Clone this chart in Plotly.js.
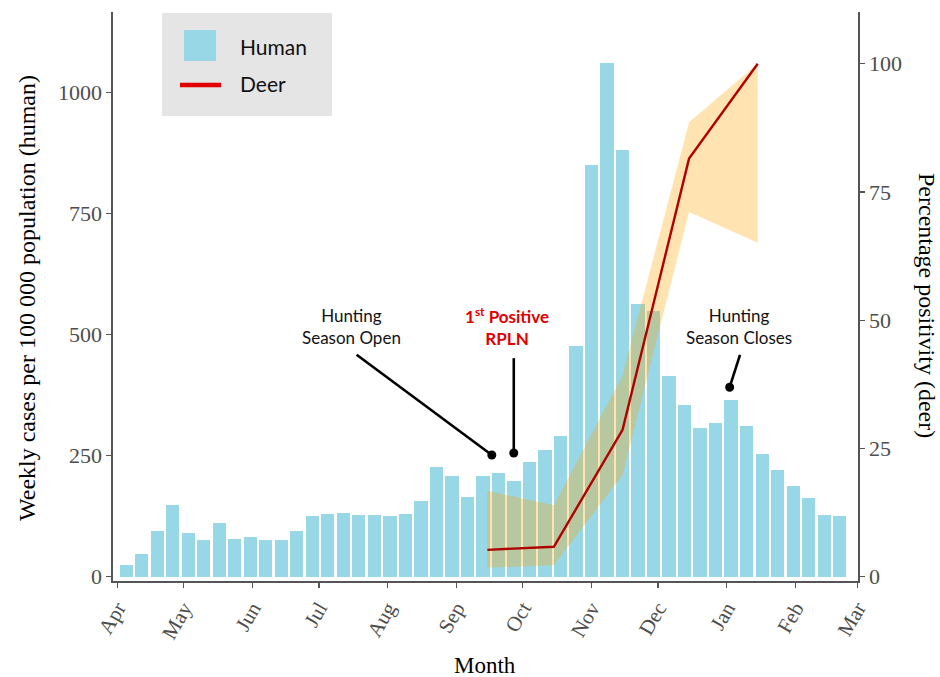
<!DOCTYPE html>
<html>
<head>
<meta charset="utf-8">
<script src="https://cdn.plot.ly/plotly-3.0.1.min.js"></script>
<style>
  html, body { margin: 0; padding: 0; background: #ffffff; }
  #chart { width: 940px; height: 677px; }
</style>
</head>
<body>
<div id="chart"></div>
<script>
// Weekly human cases (per 100 000) and monthly deer positivity, Apr 2020 – Feb 2021
const weekDates = [
  '2020-04-05','2020-04-12','2020-04-19','2020-04-26',
  '2020-05-03','2020-05-10','2020-05-17','2020-05-24','2020-05-31',
  '2020-06-07','2020-06-14','2020-06-21','2020-06-28',
  '2020-07-05','2020-07-12','2020-07-19','2020-07-26',
  '2020-08-02','2020-08-09','2020-08-16','2020-08-23','2020-08-30',
  '2020-09-06','2020-09-13','2020-09-20','2020-09-27',
  '2020-10-04','2020-10-11','2020-10-18','2020-10-25',
  '2020-11-01','2020-11-08','2020-11-15','2020-11-22','2020-11-29',
  '2020-12-06','2020-12-13','2020-12-20','2020-12-27',
  '2021-01-03','2021-01-10','2021-01-17','2021-01-24','2021-01-31',
  '2021-02-07','2021-02-14','2021-02-21'
];
const humanCases = [
  23, 47, 95, 148,
  90, 76, 111, 77, 82,
  75, 75, 94, 124,
  130, 132, 128, 128,
  125, 129, 155, 226, 207,
  165, 207, 213, 197,
  236, 262, 291, 476,
  851, 1061, 881, 563, 548,
  415, 355, 306, 317,
  364, 311, 253, 220, 186,
  163, 127, 124
];

const deerDates = ['2020-09-15', '2020-10-15', '2020-11-15', '2020-12-15', '2021-01-15'];
const deerPositivity = [5.2, 5.8, 28.6, 81.5, 100];
const deerLower = [1.7, 2.2, 19.8, 71.1, 65.1];
const deerUpper = [16.7, 13.9, 39.2, 88.6, 100];

const leftTicks = [0, 250, 500, 750, 1000];
const rightTicks = [0, 25, 50, 75, 100];

// Plot-area geometry (pixels) used to place the hand-built legend and titles
const W = 940, H = 677;
const M = { l: 113, r: 82, t: 12, b: 96 };
const plotW = W - M.l - M.r, plotH = H - M.t - M.b;
const px = x => (x - M.l) / plotW;
const py = y => (H - M.b - y) / plotH;

const serif = 'Liberation Serif, Times New Roman, serif';
const sans = 'Lato, Open Sans, sans-serif';
const tickGrey = '#4D4D4D';
const axisGrey = '#555555';
const barBlue = '#98D7E5';
const deerRed = '#B00000';

const traces = [
  {
    type: 'bar', name: 'Human', x: weekDates, y: humanCases,
    width: 6 * 86400000, marker: { color: barBlue, line: { width: 0 } },
    yaxis: 'y', hoverinfo: 'x+y'
  },
  {
    type: 'scatter', mode: 'lines', x: deerDates, y: deerLower,
    line: { width: 0, color: 'rgba(0,0,0,0)' }, yaxis: 'y2', hoverinfo: 'skip'
  },
  {
    type: 'scatter', mode: 'lines', x: deerDates, y: deerUpper,
    fill: 'tonexty', fillcolor: 'rgba(255,165,0,0.30)',
    line: { width: 0, color: 'rgba(0,0,0,0)' }, yaxis: 'y2', hoverinfo: 'skip'
  },
  {
    type: 'scatter', mode: 'lines', name: 'Deer', x: deerDates, y: deerPositivity,
    line: { color: deerRed, width: 2.4 }, yaxis: 'y2'
  }
];

const shapes = [
  // legend panel
  { type: 'rect', xref: 'paper', yref: 'paper', x0: px(162), x1: px(332), y0: py(116), y1: py(13),
    fillcolor: '#E5E5E5', line: { width: 0 }, layer: 'above' },
  { type: 'rect', xref: 'paper', yref: 'paper', x0: px(184), x1: px(216), y0: py(61), y1: py(30),
    fillcolor: barBlue, line: { width: 0 }, layer: 'above' },
  { type: 'line', xref: 'paper', yref: 'paper', x0: px(180), x1: px(221), y0: py(85), y1: py(85),
    line: { color: '#E00000', width: 4.5 }, layer: 'above' },
  // pointer lines for the annotations
  { type: 'line', xref: 'x', yref: 'y', x0: '2020-07-18', y0: 458, x1: '2020-09-17', y1: 251,
    line: { color: '#000000', width: 2.6 } },
  { type: 'line', xref: 'x', yref: 'y', x0: '2020-09-26 22:00', y0: 451, x1: '2020-09-26 22:00', y1: 255,
    line: { color: '#000000', width: 2.6 } },
  { type: 'line', xref: 'x', yref: 'y', x0: '2021-01-07', y0: 458, x1: '2021-01-02 08:00', y1: 391,
    line: { color: '#000000', width: 2.6 } }
];
// dot at the end of each pointer
[['2020-09-17', 251], ['2020-09-26 22:00', 255], ['2021-01-02 08:00', 391]].forEach(([d, v]) => {
  shapes.push({
    type: 'circle', xref: 'x', yref: 'y', xsizemode: 'pixel', ysizemode: 'pixel',
    xanchor: d, yanchor: v, x0: -4.5, x1: 4.5, y0: -4.5, y1: 4.5,
    fillcolor: '#000000', line: { width: 0 }
  });
});

const annotations = [
  { xref: 'paper', yref: 'paper', x: px(238), y: py(46), xanchor: 'left', yanchor: 'middle',
    text: 'Human', showarrow: false, font: { family: sans, size: 21, color: '#111111' } },
  { xref: 'paper', yref: 'paper', x: px(238), y: py(84), xanchor: 'left', yanchor: 'middle',
    text: 'Deer', showarrow: false, font: { family: sans, size: 21, color: '#111111' } },
  { xref: 'x', yref: 'y', x: '2020-07-15 12:00', y: 516, xanchor: 'center', yanchor: 'middle',
    text: 'Hunting<br>Season Open', showarrow: false, align: 'center',
    font: { family: sans, size: 17, color: '#111111' } },
  { xref: 'x', yref: 'y', x: '2020-09-23 17:00', y: 516, xanchor: 'center', yanchor: 'middle',
    text: '<b>1<sup>st</sup> Positive<br>RPLN</b>', showarrow: false, align: 'center',
    font: { family: sans, size: 17, color: '#E00000' } },
  { xref: 'x', yref: 'y', x: '2021-01-06 12:00', y: 516, xanchor: 'center', yanchor: 'middle',
    text: 'Hunting<br>Season Closes', showarrow: false, align: 'center',
    font: { family: sans, size: 17, color: '#111111' } },
  // axis titles
  { xref: 'paper', yref: 'paper', x: px(485), y: py(665), xanchor: 'center', yanchor: 'middle',
    text: 'Month', showarrow: false, font: { family: serif, size: 23, color: '#000000' } },
  { xref: 'paper', yref: 'paper', x: px(27), y: py(298), xanchor: 'center', yanchor: 'middle',
    textangle: -90, text: 'Weekly cases per 100 000 population (human)', showarrow: false,
    font: { family: serif, size: 24, color: '#000000' } },
  { xref: 'paper', yref: 'paper', x: px(927), y: py(305), xanchor: 'center', yanchor: 'middle',
    textangle: 90, text: 'Percentage positivity (deer)', showarrow: false,
    font: { family: serif, size: 24, color: '#000000' } }
];

const layout = {
  width: W, height: H,
  margin: M,
  paper_bgcolor: '#ffffff', plot_bgcolor: '#ffffff',
  showlegend: false,
  bargap: 0,
  xaxis: {
    type: 'date',
    range: ['2020-03-30 01:30', '2021-03-01 06:00'],
    tick0: '2020-04-01', dtick: 'M1', tickformat: '%b',
    tickangle: -60,
    ticks: 'outside', ticklen: 5, tickcolor: axisGrey, tickwidth: 1.2,
    tickfont: { family: serif, size: 21, color: tickGrey },
    showline: true, linecolor: axisGrey, linewidth: 1.6,
    showgrid: false, zeroline: false
  },
  yaxis: {
    range: [-9.3, 1166],
    tickvals: leftTicks, ticktext: leftTicks.map(String),
    ticks: 'outside', ticklen: 5, tickcolor: axisGrey, tickwidth: 1.2,
    tickfont: { family: serif, size: 22, color: tickGrey },
    showline: true, linecolor: axisGrey, linewidth: 1.6,
    showgrid: false, zeroline: false
  },
  yaxis2: {
    overlaying: 'y', side: 'right',
    range: [-0.88, 110.1],
    tickvals: rightTicks, ticktext: rightTicks.map(String),
    ticks: 'outside', ticklen: 5, tickcolor: axisGrey, tickwidth: 1.2,
    tickfont: { family: serif, size: 22, color: tickGrey },
    showline: true, linecolor: axisGrey, linewidth: 1.6,
    showgrid: false, zeroline: false
  },
  shapes: shapes,
  annotations: annotations
};

Plotly.newPlot('chart', traces, layout, { displayModeBar: false, staticPlot: true });
</script>
</body>
</html>
